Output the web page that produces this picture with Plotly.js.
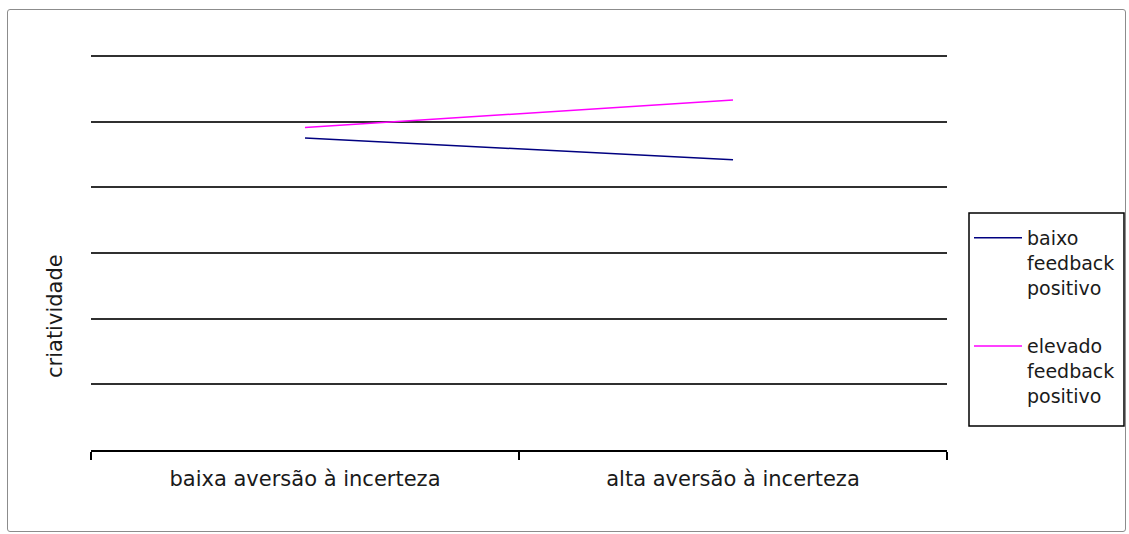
<!DOCTYPE html>
<html>
<head>
<meta charset="utf-8">
<script src="https://cdn.plot.ly/plotly-3.0.1.min.js"></script>
<style>
  html, body { margin: 0; padding: 0; background: #ffffff; }
  #frame { position: absolute; left: 7px; top: 9px; width: 1119px; height: 523px;
           border: 1.5px solid #8c8c8c; border-radius: 3px; box-sizing: border-box; }
  #chart { position: absolute; left: 0; top: 0; width: 1129px; height: 534px; }
</style>
</head>
<body>
<div id="frame"></div>
<div id="chart"></div>
<script>
// categories (x axis)
const categories = ["baixa aversão à incerteza", "alta aversão à incerteza"];
// series
const seriesNames = ["baixo<br>feedback<br>positivo", "elevado<br>feedback<br>positivo"];
const baixoFeedback = [4.75, 4.42];
const elevadoFeedback = [4.91, 5.33];
const yTitle = "criatividade";

const FONT = "DejaVu Sans, Liberation Sans, Arial, sans-serif";

const traces = [
  { x: categories, y: baixoFeedback, name: seriesNames[0], type: "scatter", mode: "lines",
    line: { color: "#000080", width: 1.5 }, legendgroup: "a" },
  { x: categories, y: elevadoFeedback, name: seriesNames[1], type: "scatter", mode: "lines",
    line: { color: "#ff00ff", width: 1.5 }, legendgroup: "b" }
];

// plot area in pixels (top padded by 3px so the top gridline is not at the edge)
const PL = 91, PW = 856, PT = 53, PH = 397;
const px = v => (v - PL) / PW;
const py = v => (PT + PH - v) / PH;
const yMax = 6 * PH / (PH - 3);

const layout = {
  width: 1129, height: 534,
  margin: { l: PL, r: 1129 - PL - PW, t: PT, b: 534 - PT - PH, autoexpand: false },
  paper_bgcolor: "rgba(0,0,0,0)",
  plot_bgcolor: "rgba(0,0,0,0)",
  font: { family: FONT, size: 19, color: "#1a1a1a" },
  showlegend: true,
  legend: {
    x: px(969), xanchor: "left", y: py(219), yanchor: "top",
    borderwidth: 0, bgcolor: "rgba(0,0,0,0)",
    font: { family: FONT, size: 19, color: "#1a1a1a" },
    valign: "top", traceorder: "grouped", tracegroupgap: 31,
    itemwidth: 48
  },
  shapes: [
    { type: "rect", xref: "paper", yref: "paper",
      x0: px(969), x1: px(1124), y0: py(426), y1: py(213),
      line: { color: "#000000", width: 1.5 }, fillcolor: "rgba(0,0,0,0)", layer: "below" }
  ],
  xaxis: {
    type: "category", range: [-0.5, 1.5],
    tickson: "boundaries", ticks: "outside", ticklen: 8, tickwidth: 1.5, tickcolor: "#000",
    showline: true, linecolor: "#000", linewidth: 1.5,
    showgrid: false, zeroline: false, ticklabelstandoff: 9,
    tickfont: { family: FONT, size: 21, color: "#1a1a1a" },
    fixedrange: true
  },
  yaxis: {
    range: [0, yMax], dtick: 1, tick0: 0,
    showticklabels: false, ticks: "",
    showgrid: true, gridcolor: "#303030", gridwidth: 2,
    zeroline: false, showline: false, fixedrange: true
  },
  annotations: [
    { text: yTitle, xref: "paper", yref: "paper",
      x: px(55), y: py(316), xanchor: "center", yanchor: "middle",
      textangle: -90, showarrow: false,
      font: { family: FONT, size: 21, color: "#1a1a1a" } }
  ]
};

Plotly.newPlot("chart", traces, layout, { displayModeBar: false, staticPlot: true });
</script>
</body>
</html>
